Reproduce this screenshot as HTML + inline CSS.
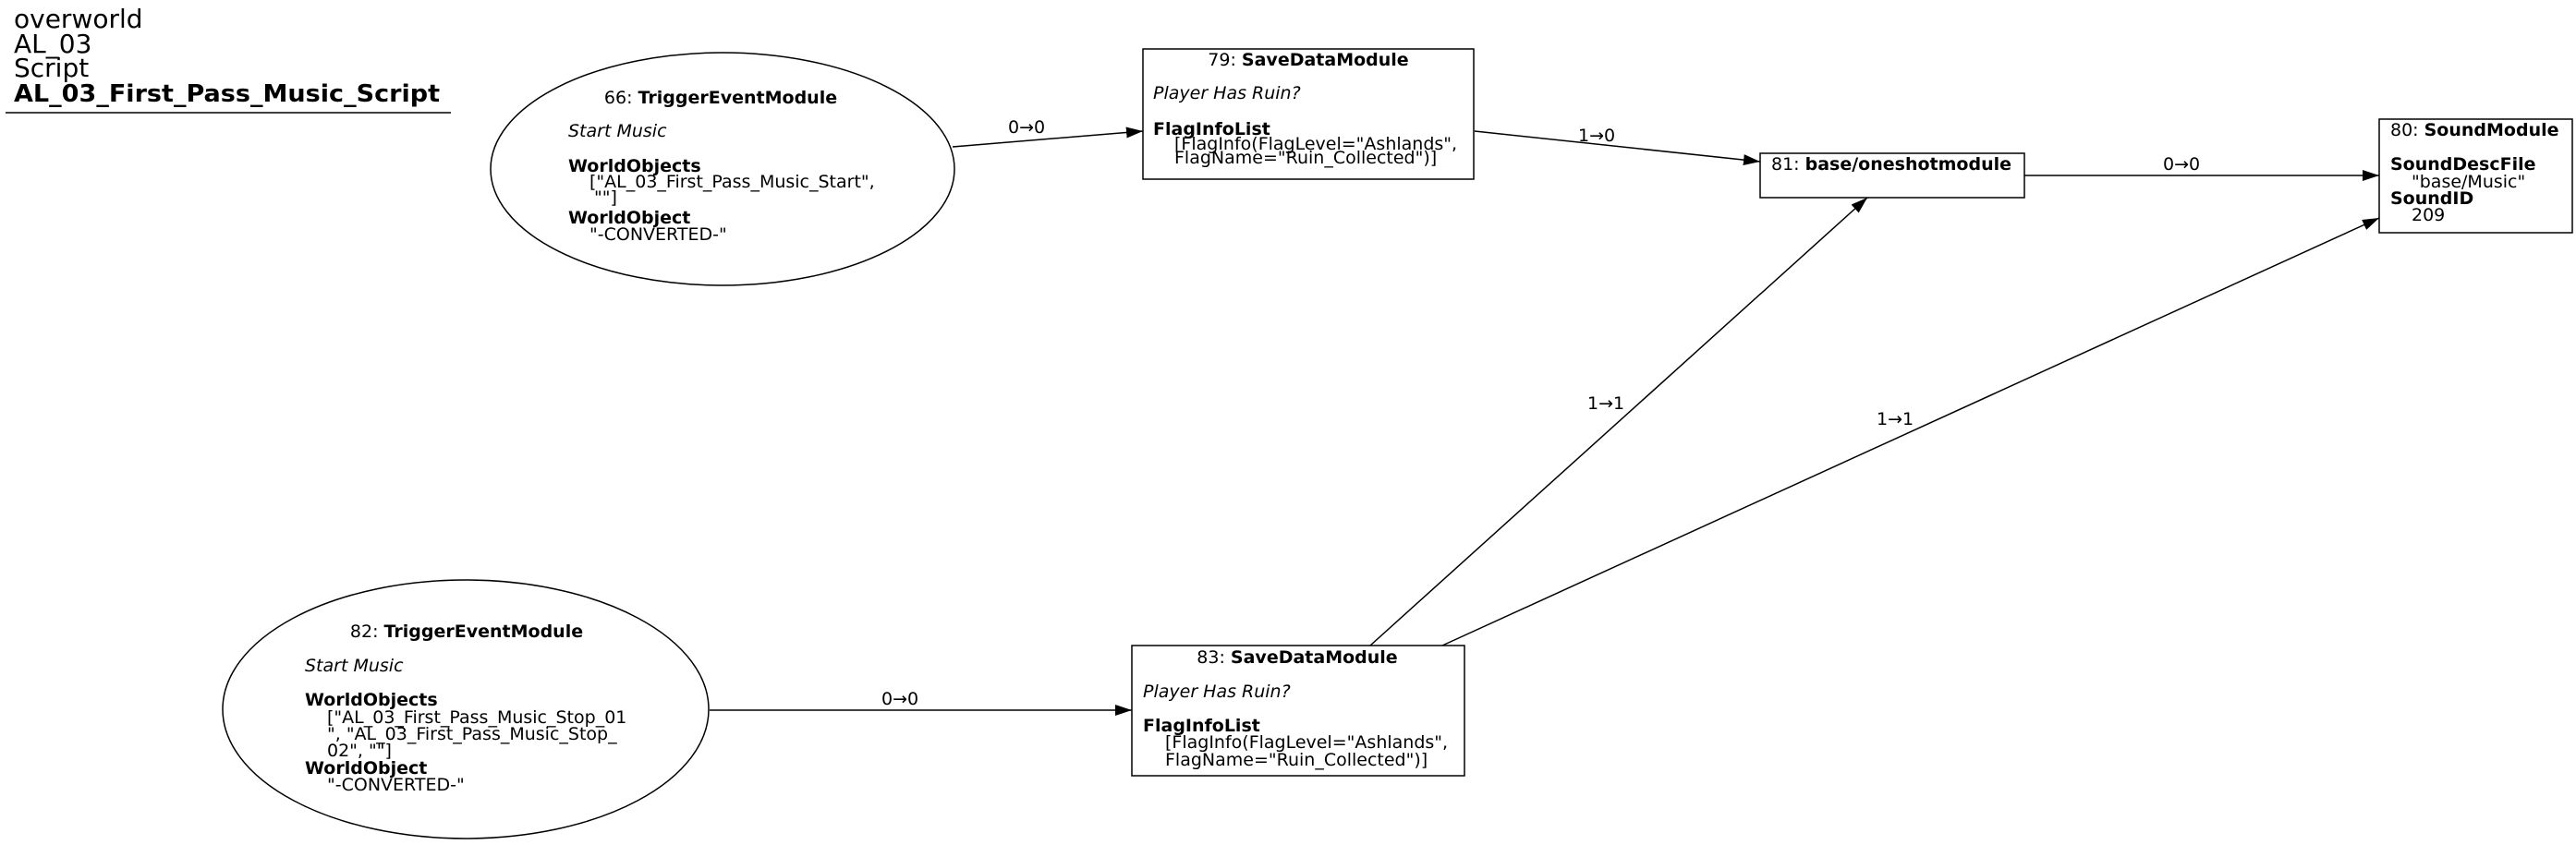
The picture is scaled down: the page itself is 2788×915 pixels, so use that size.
<!DOCTYPE html>
<html><head><meta charset="utf-8"><style>
html,body{margin:0;padding:0;background:#fff;}
svg{display:block;}
text{font-family:"DejaVu Sans","Liberation Sans",sans-serif;font-size:19px;fill:#000;}
.e{font-size:19px;}
.b{font-weight:bold;}
.i{font-style:italic;}
</style></head><body>
<svg width="2788" height="915" viewBox="0 0 2788 915" xmlns="http://www.w3.org/2000/svg">
<defs><marker id="a2" markerWidth="18" markerHeight="12" refX="18" refY="6" orient="auto" markerUnits="userSpaceOnUse"><path d="M0,0 L18,6 L0,12 z" fill="#000"/></marker></defs>

<text x="15" y="30" style="font-size:28px">overworld</text>
<text x="15" y="57" style="font-size:28px">AL_03</text>
<text x="15" y="83" style="font-size:28px">Script</text>
<text x="15" y="110" class="b" style="font-size:26px" textLength="461" lengthAdjust="spacingAndGlyphs">AL_03_First_Pass_Music_Script</text>
<line x1="6" y1="122" x2="488" y2="122" stroke="#000" stroke-width="1.5"/>

<!-- 66 -->
<ellipse cx="782" cy="183" rx="251" ry="126" fill="none" stroke="#000" stroke-width="1.5"/>
<text x="780" y="112" text-anchor="middle">66: <tspan class="b">TriggerEventModule</tspan></text>
<text x="615" y="148" class="i">Start Music</text>
<text x="615" y="186" class="b">WorldObjects</text>
<text x="638" y="203">["AL_03_First_Pass_Music_Start",</text>
<text x="643" y="220">""]</text>
<text x="615" y="242" class="b">WorldObject</text>
<text x="638" y="260">"-CONVERTED-"</text>

<!-- 79 -->
<rect x="1237" y="53" width="358" height="141" fill="none" stroke="#000" stroke-width="1.5"/>
<text x="1416" y="71" text-anchor="middle">79: <tspan class="b">SaveDataModule</tspan></text>
<text x="1248" y="107" class="i">Player Has Ruin?</text>
<text x="1248" y="146" class="b">FlagInfoList</text>
<text x="1271" y="162">[FlagInfo(FlagLevel="Ashlands",</text>
<text x="1271" y="177">FlagName="Ruin_Collected")]</text>

<!-- 81 -->
<rect x="1905" y="166" width="286" height="48" fill="none" stroke="#000" stroke-width="1.5"/>
<text x="1917" y="184">81: <tspan class="b">base/oneshotmodule</tspan></text>

<!-- 80 -->
<rect x="2575" y="129" width="209" height="123" fill="none" stroke="#000" stroke-width="1.5"/>
<text x="2587" y="147">80: <tspan class="b">SoundModule</tspan></text>
<text x="2587" y="184" class="b">SoundDescFile</text>
<text x="2610" y="203">"base/Music"</text>
<text x="2587" y="221" class="b">SoundID</text>
<text x="2610" y="239">209</text>

<!-- 82 -->
<ellipse cx="504" cy="768" rx="263" ry="140" fill="none" stroke="#000" stroke-width="1.5"/>
<text x="505" y="690" text-anchor="middle">82: <tspan class="b">TriggerEventModule</tspan></text>
<text x="330" y="727" class="i">Start Music</text>
<text x="330" y="764" class="b">WorldObjects</text>
<text x="354" y="783">["AL_03_First_Pass_Music_Stop_01</text>
<text x="354" y="801">", "AL_03_First_Pass_Music_Stop_</text>
<text x="354" y="819">02", ""]</text>
<text x="330" y="838" class="b">WorldObject</text>
<text x="354" y="856">"-CONVERTED-"</text>

<!-- 83 -->
<rect x="1225" y="699" width="360" height="141" fill="none" stroke="#000" stroke-width="1.5"/>
<text x="1404" y="718" text-anchor="middle">83: <tspan class="b">SaveDataModule</tspan></text>
<text x="1237" y="755" class="i">Player Has Ruin?</text>
<text x="1237" y="792" class="b">FlagInfoList</text>
<text x="1261" y="810">[FlagInfo(FlagLevel="Ashlands",</text>
<text x="1261" y="829">FlagName="Ruin_Collected")]</text>

<!-- edges -->
<g stroke="#000" stroke-width="1.5" fill="none">
<line x1="1031" y1="159" x2="1237" y2="142" marker-end="url(#a2)"/>
<line x1="1596" y1="142" x2="1905" y2="175" marker-end="url(#a2)"/>
<line x1="2191" y1="190" x2="2575" y2="190" marker-end="url(#a2)"/>
<line x1="768" y1="769" x2="1225" y2="769" marker-end="url(#a2)"/>
<line x1="1483" y1="699" x2="2021" y2="214" marker-end="url(#a2)"/>
<line x1="1561" y1="699" x2="2575" y2="236" marker-end="url(#a2)"/>
</g>
<text class="e" x="1091" y="144">0→0</text>
<text class="e" x="1708" y="153">1→0</text>
<text class="e" x="2341" y="184">0→0</text>
<text class="e" x="954" y="763">0→0</text>
<text class="e" x="1718" y="443">1→1</text>
<text class="e" x="2031" y="460">1→1</text>
</svg>
</body></html>
